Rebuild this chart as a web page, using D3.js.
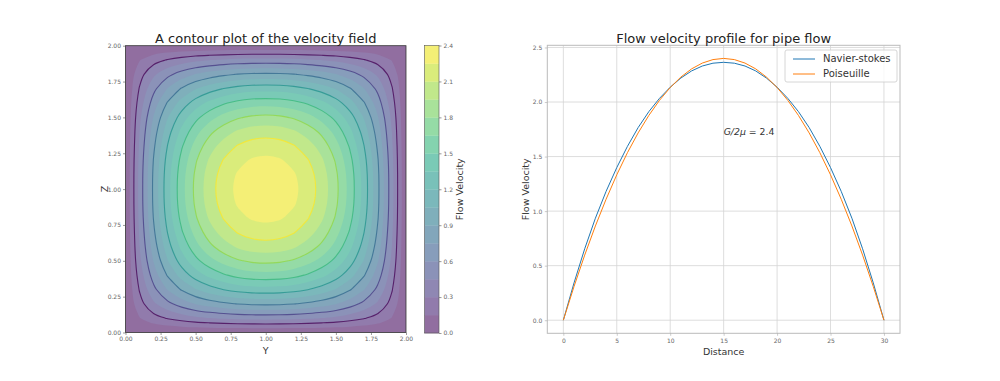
<!DOCTYPE html>
<html>
<head>
<meta charset="utf-8">
<script src="https://cdn.jsdelivr.net/npm/d3@7"></script>
<style>
  body { margin: 0; background: #fff; }
  svg { font-family: "DejaVu Sans", sans-serif; }
</style>
</head>
<body>
<svg id="chart" width="1000" height="381"></svg>
<script>
// ---- data ----
// velocity profile along the pipe centre line
var distance = [0, 1, 2, 3, 4, 5, 6, 7, 8, 9, 10, 11, 12, 13, 14, 15,
  16, 17, 18, 19, 20, 21, 22, 23, 24, 25, 26, 27, 28, 29, 30];
var navierStokes = [0, 0.342, 0.655, 0.935, 1.181, 1.399, 1.594, 1.766, 1.912, 2.034, 2.136,
  2.220, 2.285, 2.330, 2.356, 2.364, 2.356, 2.330, 2.285, 2.220, 2.136,
  2.034, 1.912, 1.766, 1.594, 1.399, 1.181, 0.935, 0.655, 0.342, 0];
var poiseuille = [0, 0.309, 0.597, 0.864, 1.109, 1.333, 1.536, 1.717, 1.877, 2.016, 2.133,
  2.229, 2.304, 2.357, 2.389, 2.400, 2.389, 2.357, 2.304, 2.229, 2.133,
  2.016, 1.877, 1.717, 1.536, 1.333, 1.109, 0.864, 0.597, 0.309, 0];

// grid positions (Y and Z) of the velocity field
var gridCoords = [0, 0.1, 0.2, 0.3, 0.4, 0.5, 0.6, 0.7, 0.8, 0.9, 1.0,
  1.1, 1.2, 1.3, 1.4, 1.5, 1.6, 1.7, 1.8, 1.9, 2.0];
// one quarter of the field: row/col = steps of 0.1 away from the centre
var velocityQuadrant = [
  [2.364, 2.345, 2.283, 2.181, 2.037, 1.840, 1.594, 1.293, 0.931, 0.502, 0],
  [2.345, 2.326, 2.265, 2.164, 2.022, 1.826, 1.584, 1.285, 0.926, 0.500, 0],
  [2.283, 2.265, 2.208, 2.110, 1.972, 1.783, 1.547, 1.257, 0.907, 0.490, 0],
  [2.181, 2.164, 2.110, 2.015, 1.885, 1.705, 1.482, 1.205, 0.871, 0.471, 0],
  [2.037, 2.022, 1.972, 1.885, 1.763, 1.598, 1.391, 1.135, 0.823, 0.447, 0],
  [1.840, 1.826, 1.783, 1.705, 1.598, 1.455, 1.271, 1.041, 0.758, 0.415, 0],
  [1.594, 1.584, 1.547, 1.482, 1.391, 1.271, 1.111, 0.914, 0.669, 0.368, 0],
  [1.293, 1.285, 1.257, 1.205, 1.135, 1.041, 0.914, 0.757, 0.559, 0.311, 0],
  [0.931, 0.926, 0.907, 0.871, 0.823, 0.758, 0.669, 0.559, 0.423, 0.241, 0],
  [0.502, 0.500, 0.490, 0.471, 0.447, 0.415, 0.368, 0.311, 0.241, 0.142, 0],
  [0, 0, 0, 0, 0, 0, 0, 0, 0, 0, 0]
];

var fillLevels = [0, 0.15, 0.3, 0.45, 0.6, 0.75, 0.9, 1.05, 1.2, 1.35, 1.5,
  1.65, 1.8, 1.95, 2.1, 2.25, 2.4];
var lineLevels = [0.3, 0.6, 0.9, 1.2, 1.5, 1.8, 2.1];
var colorbarTicks = [0, 0.3, 0.6, 0.9, 1.2, 1.5, 1.8, 2.1, 2.4];
var contourTicks = [0, 0.25, 0.5, 0.75, 1, 1.25, 1.5, 1.75, 2];
var profileXTicks = [0, 5, 10, 15, 20, 25, 30];
var profileYTicks = [0, 0.5, 1, 1.5, 2, 2.5];

var svg = d3.select("#chart");

function faded(c, a) {
  var r = d3.rgb(c);
  return d3.rgb(255 - a * (255 - r.r), 255 - a * (255 - r.g), 255 - a * (255 - r.b)).toString();
}
var alpha = 0.6;
function bandColor(lo, hi) {
  return faded(d3.interpolateViridis((lo + hi) / 2 / 2.4), alpha);
}

// ---- left: contour plot ----
var cx = d3.scaleLinear().domain([0, 2]).range([125.5, 406]);
var cy = d3.scaleLinear().domain([0, 2]).range([332.5, 45.7]);

var n = gridCoords.length;
var mid = velocityQuadrant.length - 1;
var values = [];
for (var r = 0; r < n; r++) {
  for (var c = 0; c < n; c++) {
    values.push(velocityQuadrant[Math.abs(r - mid)][Math.abs(c - mid)]);
  }
}
// d3.contours puts value i at grid coordinate i + 0.5
var g2d = d3.scaleLinear().domain([0.5, n - 0.5]).range([gridCoords[0], gridCoords[n - 1]]);

var ringLine = d3.line()
  .x(function(p) { return cx(g2d(p[0])); })
  .y(function(p) { return cy(g2d(p[1])); })
  .curve(d3.curveCatmullRomClosed.alpha(0.5));

function geomPath(geom) {
  return geom.coordinates.map(function(poly) {
    return poly.map(function(ring) { return ringLine(ring.slice(0, -1)); }).join("");
  }).join("");
}

var left = svg.append("g");
left.append("rect")
  .attr("x", cx(0)).attr("y", cy(2))
  .attr("width", cx(2) - cx(0)).attr("height", cy(0) - cy(2))
  .attr("fill", bandColor(fillLevels[0], fillLevels[1]));

var fills = d3.contours().size([n, n]).thresholds(fillLevels.slice(1, -1))(values);
left.selectAll(".band")
  .data(fills)
  .enter().append("path")
  .attr("class", "band")
  .attr("d", geomPath)
  .attr("fill", function(d) {
    var i = fillLevels.indexOf(d.value);
    return bandColor(fillLevels[i], fillLevels[i + 1]);
  });

var lineColor = d3.scaleSequential(d3.interpolateViridis)
  .domain([lineLevels[0], lineLevels[lineLevels.length - 1]]);
var isolines = d3.contours().size([n, n]).thresholds(lineLevels)(values);
left.selectAll(".iso")
  .data(isolines)
  .enter().append("path")
  .attr("class", "iso")
  .attr("d", geomPath)
  .attr("fill", "none")
  .attr("stroke", function(d) { return lineColor(d.value); })
  .attr("stroke-opacity", 0.75)
  .attr("stroke-width", 1.1);

left.append("rect")
  .attr("x", cx(0)).attr("y", cy(2))
  .attr("width", cx(2) - cx(0)).attr("height", cy(0) - cy(2))
  .attr("fill", "none").attr("stroke", "#333").attr("stroke-width", 0.8);

function styleAxis(g) {
  g.select(".domain").remove();
  g.selectAll(".tick line").attr("stroke", "#555").attr("stroke-width", 0.6);
  g.selectAll(".tick text").attr("font-size", "6px").attr("font-family", "DejaVu Sans").attr("fill", "#666");
}

left.append("g")
  .attr("transform", "translate(0," + cy(0) + ")")
  .call(d3.axisBottom(cx).tickValues(contourTicks).tickFormat(d3.format(".2f")).tickSize(2.5).tickPadding(2))
  .call(styleAxis);
left.append("g")
  .attr("transform", "translate(" + cx(0) + ",0)")
  .call(d3.axisLeft(cy).tickValues(contourTicks).tickFormat(d3.format(".2f")).tickSize(2.5).tickPadding(2))
  .call(styleAxis);

left.append("text")
  .attr("x", (cx(0) + cx(2)) / 2).attr("y", 42.5)
  .attr("text-anchor", "middle").attr("font-size", "13px").attr("fill", "#222")
  .text("A contour plot of the velocity field");
left.append("text")
  .attr("x", (cx(0) + cx(2)) / 2).attr("y", 354)
  .attr("text-anchor", "middle").attr("font-size", "9.5px").attr("fill", "#333")
  .text("Y");
left.append("text")
  .attr("transform", "translate(108," + (cy(1)) + ") rotate(-90)")
  .attr("text-anchor", "middle").attr("font-size", "9.5px").attr("fill", "#333")
  .text("Z");

// colorbar
var cb = svg.append("g");
var cbY = d3.scaleLinear().domain([0, 2.4]).range([333, 45.5]);
var cbX0 = 424.5, cbW = 14.5;
cb.selectAll(".cbband")
  .data(d3.pairs(fillLevels))
  .enter().append("rect")
  .attr("x", cbX0).attr("width", cbW)
  .attr("y", function(d) { return cbY(d[1]); })
  .attr("height", function(d) { return cbY(d[0]) - cbY(d[1]) + 0.3; })
  .attr("fill", function(d) { return bandColor(d[0], d[1]); });
cb.append("rect")
  .attr("x", cbX0).attr("y", cbY(2.4)).attr("width", cbW).attr("height", cbY(0) - cbY(2.4))
  .attr("fill", "none").attr("stroke", "#555").attr("stroke-width", 0.6);
cb.append("g")
  .attr("transform", "translate(" + (cbX0 + cbW) + ",0)")
  .call(d3.axisRight(cbY).tickValues(colorbarTicks).tickFormat(d3.format(".1f")).tickSize(2.5).tickPadding(2))
  .call(styleAxis);
cb.append("text")
  .attr("transform", "translate(463," + ((cbY(0) + cbY(2.4)) / 2) + ") rotate(-90)")
  .attr("text-anchor", "middle").attr("font-size", "9.5px").attr("fill", "#333")
  .text("Flow Velocity");

// ---- right: velocity profile ----
var right = svg.append("g");
var px = d3.scaleLinear().domain([-1.5, 31.5]).range([547.3, 900]);
var py = d3.scaleLinear().domain([-0.12, 2.52]).range([333.3, 45.3]);

right.selectAll(".vgrid")
  .data(profileXTicks)
  .enter().append("line")
  .attr("x1", px).attr("x2", px)
  .attr("y1", py(2.52)).attr("y2", py(-0.12))
  .attr("stroke", "#d4d4d4").attr("stroke-width", 0.8);
right.selectAll(".hgrid")
  .data(profileYTicks)
  .enter().append("line")
  .attr("x1", px(-1.5)).attr("x2", px(31.5))
  .attr("y1", py).attr("y2", py)
  .attr("stroke", "#d4d4d4").attr("stroke-width", 0.8);

right.append("rect")
  .attr("x", px(-1.5)).attr("y", py(2.52))
  .attr("width", px(31.5) - px(-1.5)).attr("height", py(-0.12) - py(2.52))
  .attr("fill", "none").attr("stroke", "#bbb").attr("stroke-width", 1);

function styleAxisLight(g) {
  styleAxis(g);
  g.selectAll(".tick line").attr("stroke", "#aaa");
}
right.append("g")
  .attr("transform", "translate(0," + py(-0.12) + ")")
  .call(d3.axisBottom(px).tickValues(profileXTicks).tickFormat(d3.format("d")).tickSize(2.5).tickPadding(2.5))
  .call(styleAxisLight);
right.append("g")
  .attr("transform", "translate(" + px(-1.5) + ",0)")
  .call(d3.axisLeft(py).tickValues(profileYTicks).tickFormat(d3.format(".1f")).tickSize(2.5).tickPadding(2.5))
  .call(styleAxisLight);

var series = [
  { name: "Navier-stokes", values: navierStokes, color: "#1f77b4" },
  { name: "Poiseuille", values: poiseuille, color: "#ff7f0e" }
];
var line = d3.line()
  .x(function(d, i) { return px(distance[i]); })
  .y(function(d) { return py(d); });
right.selectAll(".curve")
  .data(series)
  .enter().append("path")
  .attr("class", "curve")
  .attr("d", function(d) { return line(d.values); })
  .attr("fill", "none")
  .attr("stroke", function(d) { return d.color; })
  .attr("stroke-width", 1);

right.append("text")
  .attr("x", px(15)).attr("y", py(1.7))
  .attr("font-size", "9.3px").attr("fill", "#333")
  .call(function(t) {
    t.append("tspan").attr("font-style", "italic").text("G/2μ");
    t.append("tspan").text(" = 2.4");
  });

right.append("text")
  .attr("x", (px(-1.5) + px(31.5)) / 2).attr("y", 42.5)
  .attr("text-anchor", "middle").attr("font-size", "13px").attr("fill", "#222")
  .text("Flow velocity profile for pipe flow");
right.append("text")
  .attr("x", (px(-1.5) + px(31.5)) / 2).attr("y", 355)
  .attr("text-anchor", "middle").attr("font-size", "9.5px").attr("fill", "#333")
  .text("Distance");
right.append("text")
  .attr("transform", "translate(529," + ((py(-0.12) + py(2.52)) / 2) + ") rotate(-90)")
  .attr("text-anchor", "middle").attr("font-size", "9.5px").attr("fill", "#333")
  .text("Flow Velocity");

// legend
var legend = right.append("g").attr("transform", "translate(785,50)");
legend.append("rect")
  .attr("width", 112).attr("height", 32).attr("rx", 2)
  .attr("fill", "#fff").attr("fill-opacity", 0.8)
  .attr("stroke", "#ccc").attr("stroke-width", 0.8);
var item = legend.selectAll(".item")
  .data(series)
  .enter().append("g")
  .attr("transform", function(d, i) { return "translate(0," + (9 + i * 15) + ")"; });
item.append("line")
  .attr("x1", 8).attr("x2", 30)
  .attr("stroke", function(d) { return d.color; }).attr("stroke-width", 1);
item.append("text")
  .attr("x", 38).attr("y", 3.4)
  .attr("font-size", "10px").attr("fill", "#333")
  .text(function(d) { return d.name; });
</script>
</body>
</html>
